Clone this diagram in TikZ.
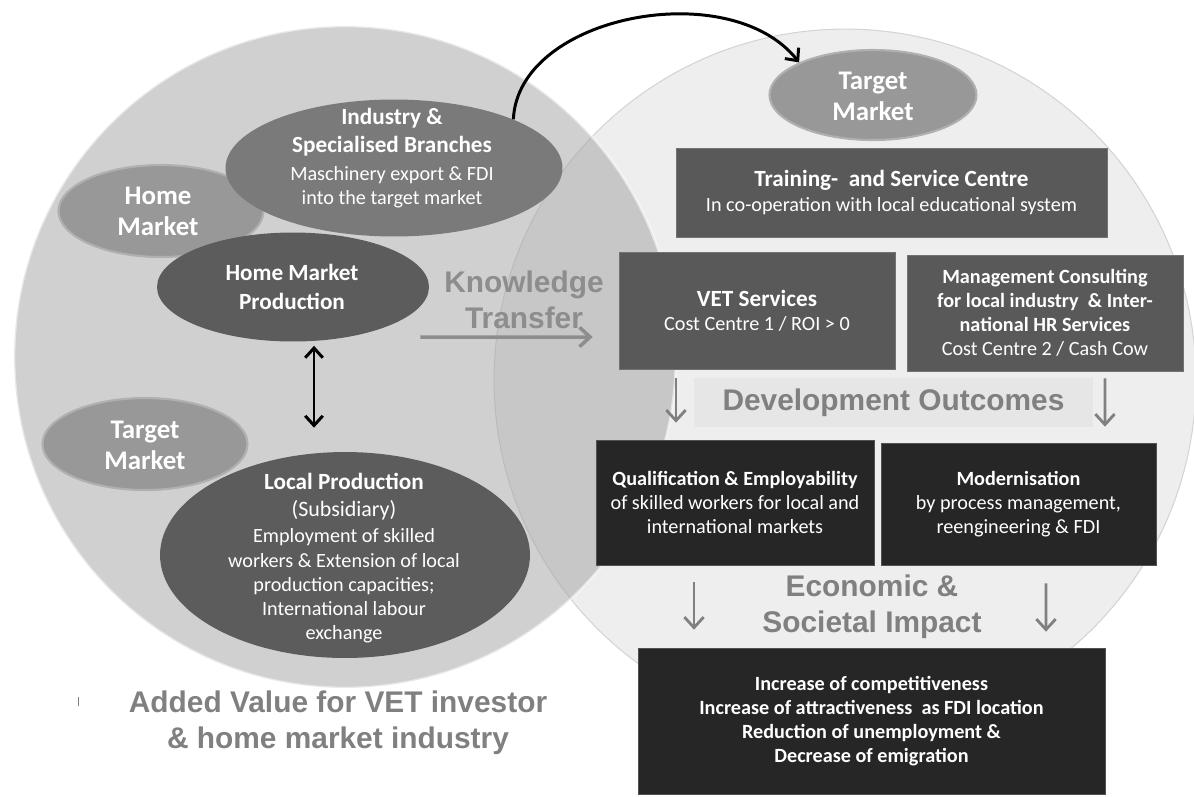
\documentclass[tikz,border=0pt]{standalone}
\usepackage{fontspec}
\setmainfont{Carlito}
\newfontfamily\headfont{Liberation Sans}
\usepackage{tikz}
\usetikzlibrary{shapes.geometric,arrows.meta,calc}

\definecolor{pale}{HTML}{EEEEEE}
\definecolor{rimgray}{HTML}{D4D4D4}
\definecolor{discgray}{HTML}{A6A6A6}
\definecolor{mktgray}{HTML}{989898}
\definecolor{mktrim}{HTML}{B0B0B0}
\definecolor{indgray}{HTML}{7A7A7A}
\definecolor{prodgray}{HTML}{5C5C5C}
\definecolor{boxgray}{HTML}{595959}
\definecolor{darkbox}{HTML}{262626}
\definecolor{headgray}{HTML}{808080}
\definecolor{bandgray}{HTML}{E6E6E6}

\newcommand{\bodysize}{\fontsize{11.5}{13.7}\selectfont}
\newcommand{\titlesize}{\fontsize{13.2}{16.5}\selectfont\bfseries}
\newcommand{\mktsize}{\fontsize{15.3}{17.6}\selectfont\bfseries}
\newcommand{\headsize}{\headfont\fontsize{17}{20.5}\selectfont\bfseries}

\begin{document}
\begin{tikzpicture}[x=0.02cm, y=-0.02cm, font=\bodysize,
  >={Straight Barb[length=5.5pt,width=10pt]}]
\tikzset{%
  market/.style = {%
    ellipse,
    fill = mktgray,
    draw = mktrim,
    line width = 1.2pt,
    minimum width = 4.1cm,
    minimum height = 1.84cm},
  blob/.style = {ellipse, inner sep=0pt},
  txt/.style = {align=center, text=white, inner sep=0pt},
  greybox/.style = {%
    rectangle,
    fill = boxgray,
    draw = boxgray!85!white,
    text = white,
    align = center,
    inner sep = 0pt},
  blackbox/.style = {%
    rectangle,
    fill = darkbox,
    draw = darkbox!80!white,
    text = white,
    align = center,
    inner sep = 0pt},
  heading/.style = {align=center, text=headgray, font=\headsize, inner sep=0pt},
  fatarrow/.style = {->, black, line width=1.7pt},
  greyarrow/.style = {-{Straight Barb[length=6pt,width=11pt]}, headgray, line width=1.6pt}
}

  \useasboundingbox (0,0) rectangle (1194,796);

  % the two market discs, the left one laid over the right
  \draw[fill=pale, draw=rimgray, line width=0.6pt] (845,380) circle (7.02cm);
  \draw[fill=discgray, fill opacity=0.53, draw=white, draw opacity=0.5,
    line width=1.5pt] (345,357) circle (6.62cm);

  % home side
  \node[market] (homemarket) at (161,211) {};
  \node[txt, font=\mktsize] (homemarket-t) at (158,211) {Home\\Market};
  \node[blob, fill=indgray, minimum width=6.74cm, minimum height=2.74cm]
    (industry) at (394,168) {};
  \node[txt] (industry-t) at (392,158)
    {{\titlesize Industry \&}\\[2.5pt]{\titlesize Specialised Branches}\\[2pt]
     Maschinery export \& FDI\\into the target market};
  \node[blob, fill=prodgray, minimum width=5.44cm, minimum height=2.18cm]
    (homeprod) at (293,287) {};
  \node[txt, font=\titlesize] (homeprod-t) at (292,287) {Home Market\\Production};

  \node[market] (targetleft) at (145,444) {};
  \node[txt, font=\mktsize] (targetleft-t) at (145,445) {Target\\Market};
  \node[blob, fill=prodgray, minimum width=7.4cm, minimum height=4.12cm]
    (localprod) at (345,555) {};
  \node[txt] (localprod-t) at (344,558)
    {{\titlesize Local Production}\\[1.5pt]{\fontsize{12.5}{15}\selectfont (Subsidiary)}\\[1.5pt]
     Employment of skilled\\workers \& Extension of local\\
     production capacities;\\International labour\\exchange};

  \draw[fatarrow, <->] ($(homeprod.south)+(21,4)$) -- ($(localprod.north)+(-31,-24)$);

  \node[heading, text=headgray!90!white] (knowledge) at (524,299.5) {Knowledge\\Transfer};

  \node[heading] (addedvalue) at (338,722.5)
    {Added Value for VET investor\\\& home market industry};
  \draw[gray, line width=0.5pt] (78,697) -- (78,706);

  % target side
  \node[market, minimum width=4.14cm, minimum height=1.8cm] (targettop) at (873,95) {};
  \node[txt, font=\mktsize] (targettop-t) at (873,96) {Target\\Market};

  \node[greybox, minimum width=8.62cm, minimum height=1.78cm] (training) at (891.5,192.5)
    {{\titlesize Training-\ \ and Service Centre}\\In co-operation with local educational system};
  \node[greybox, minimum width=5.52cm, minimum height=2.34cm] (vet) at (757,310.5)
    {{\titlesize VET Services}\\Cost Centre 1 / ROI > 0};
  \node[greybox, minimum width=5.52cm, minimum height=2.32cm,
    node distance=5.76cm, right of=vet, yshift=-0.05cm] (consulting)
    {{\bfseries Management Consulting}\\{\bfseries for local industry\ \ \& Inter-}\\
     {\bfseries national HR Services}\\Cost Centre 2 / Cash Cow};

  \draw[-{Straight Barb[length=6pt,width=11pt]}, headgray!90!white, line width=2pt]
    ($(homeprod.east)+(-9,50)$) -- ($(vet.west)+(-26,26.5)$);

  \node[heading, fill=bandgray, minimum width=7.98cm, minimum height=0.98cm]
    (outcomes) at (893.5,402.5) {Development Outcomes};

  \node[blackbox, minimum width=5.56cm, minimum height=2.5cm] (qualification) at (735,502.5)
    {{\bfseries Qualification \& Employability}\\of skilled workers for local and\\
     international markets};
  \node[blackbox, minimum width=5.5cm, minimum height=2.44cm,
    node distance=5.67cm, right of=qualification, yshift=-0.03cm] (modernisation)
    {{\bfseries Modernisation}\\by process management,\\reengineering \& FDI};

  \draw[greyarrow] ($(vet.south)+(-81,9)$) -- ($(qualification.north)+(-59,-17)$);
  \draw[greyarrow] ($(consulting.south)+(60,7)$) -- ($(modernisation.north)+(86.5,-16)$);

  \node[heading] (economic) at (872,606.5) {Economic \&\\Societal Impact};

  \node[blackbox, font=\bodysize\bfseries, minimum width=9.34cm, minimum height=2.92cm]
    (impact) at (871.5,721)
    {Increase of competitiveness\\Increase of attractiveness\ \ as FDI location\\
     Reduction of unemployment \&\\Decrease of emigration};

  \draw[greyarrow] ($(qualification.south)+(-41,17)$) -- ($(impact.north)+(-177.5,-18)$);
  \draw[greyarrow] ($(modernisation.south)+(27.5,18)$) -- ($(impact.north)+(174.5,-16)$);

  % export link into the target market
  \draw[fatarrow] (industry.north east) .. controls (518,15) and (730,-25) .. (targettop.north west);
\end{tikzpicture}
\end{document}
